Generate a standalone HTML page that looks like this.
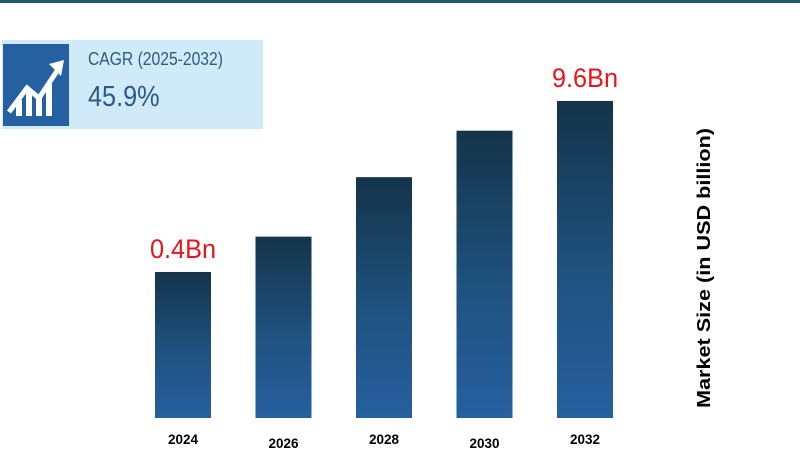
<!DOCTYPE html>
<html><head><meta charset="utf-8"><style>
body{margin:0;width:800px;height:464px;background:#fff;overflow:hidden;font-family:"Liberation Sans",sans-serif;position:relative}
</style></head><body>
<div style="position:absolute;left:0;top:0;width:800px;height:3px;background:#1f5a6e"></div>
<div style="position:absolute;left:2px;top:40px;width:261px;height:89px;background:#cfeaf9">
 <div style="position:absolute;left:1px;top:4px;width:66px;height:82px;background:#2561a0">
  <svg width="66" height="82" viewBox="0 0 66 82">
   <g fill="#fff"><rect x="13" y="56" width="6" height="16"/><rect x="23" y="48" width="6" height="24"/><rect x="33" y="52" width="6" height="20"/><rect x="43" y="40" width="6" height="32"/></g>
   <polyline points="6,68 24,44 36,54 56,24" fill="none" stroke="#fff" stroke-width="5"/>
   <polygon points="61,16 46,20 58,32" fill="#fff"/>
  </svg>
 </div>
 <div style="position:absolute;left:86px;top:9px;font-size:18px;color:#2f5a84;transform:scaleX(0.87);transform-origin:0 0;white-space:nowrap">CAGR (2025-2032)</div>
 <div style="position:absolute;left:86px;top:41px;font-size:29px;color:#2f5a84;transform:scaleX(0.87);transform-origin:0 0">45.9%</div>
</div>
<svg id="chart" width="800" height="464" style="position:absolute;left:0;top:0">
 <defs><linearGradient id="g" x1="0" y1="0" x2="0" y2="1"><stop offset="0" stop-color="#14344a"/><stop offset="0.55" stop-color="#1f5280"/><stop offset="1" stop-color="#2760a0"/></linearGradient></defs>
 <text transform="translate(710,268) rotate(-90)" text-anchor="middle" font-size="18" font-weight="bold" fill="#000" textLength="280" lengthAdjust="spacingAndGlyphs">Market Size (in USD billion)</text>
</svg>
<script>
const categories=["2024","2026","2028","2030","2032"];
const values=[0.4,2.3,5.5,8.0,9.6];
const labels=["0.4Bn",null,null,null,"9.6Bn"];
const svg=document.getElementById('chart');
const NS="http://www.w3.org/2000/svg";
const base=418;
function h(v){return 138.6+18.59*v;}
function x(i){return 155+i*100.5;}
categories.forEach((c,i)=>{
 const r=document.createElementNS(NS,'rect');
 
 
 r.setAttribute('x',x(i));r.setAttribute('width',56);
 r.setAttribute('y',base-h(values[i]));r.setAttribute('height',h(values[i]));
 r.setAttribute('fill','url(#g)');svg.appendChild(r);
 const t=document.createElementNS(NS,'text');
 
 
 t.setAttribute('x',x(i)+28);t.setAttribute('y',i%2?448:444);
 t.setAttribute('text-anchor','middle');t.setAttribute('font-size','14');t.setAttribute('font-weight','bold');
 t.setAttribute('textLength','30');t.setAttribute('lengthAdjust','spacingAndGlyphs');
 t.textContent=c;svg.appendChild(t);
 if(labels[i]){
  const l=document.createElementNS(NS,'text');
  
  
  l.setAttribute('x',x(i)+28);l.setAttribute('y',base-h(values[i])-14);
  l.setAttribute('text-anchor','middle');l.setAttribute('font-size','27');l.setAttribute('fill','#e8141c');
  l.setAttribute('textLength','66');l.setAttribute('lengthAdjust','spacingAndGlyphs');
  l.textContent=labels[i];svg.appendChild(l);
 }
});
</script>
</body></html>
